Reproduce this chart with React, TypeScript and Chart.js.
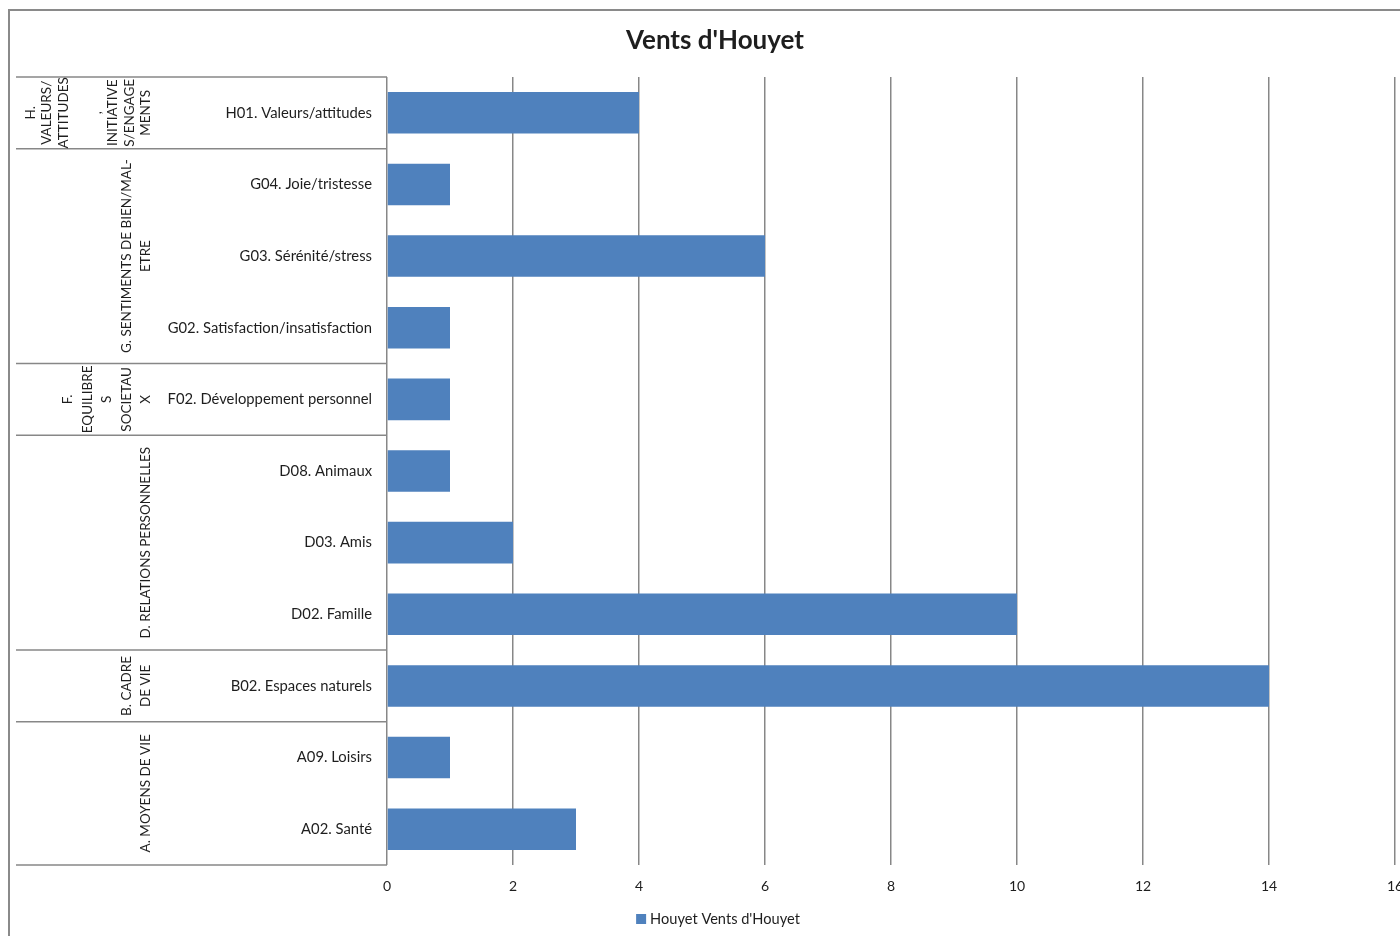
import React, { useEffect, useRef } from "react";
import { Chart, registerables } from "chart.js";

Chart.register(...registerables);

const chartTitle = "Vents d'Houyet";
const seriesName = "Houyet Vents d'Houyet";

const categories = [
  "H01. Valeurs/attitudes",
  "G04. Joie/tristesse",
  "G03. Sérénité/stress",
  "G02. Satisfaction/insatisfaction",
  "F02. Développement personnel",
  "D08. Animaux",
  "D03. Amis",
  "D02. Famille",
  "B02. Espaces naturels",
  "A09. Loisirs",
  "A02. Santé",
];

const values = [4, 1, 6, 1, 1, 1, 2, 10, 14, 1, 3];

const groupLabels = [
  ["H.", "VALEURS/", "ATTITUDES", "", ",", "INITIATIVE", "S/ENGAGE", "MENTS"],
  ["G. SENTIMENTS DE BIEN/MAL-", "ETRE"],
  ["F.", "EQUILIBRE", "S", "SOCIETAU", "X"],
  ["D. RELATIONS PERSONNELLES"],
  ["B. CADRE", "DE VIE"],
  ["A. MOYENS DE VIE"],
];
const groupSizes = [1, 3, 1, 3, 1, 2];

const xMin = 0;
const xMax = 16;
const xStep = 2;

const FONT = "Lato, 'Open Sans', sans-serif";
const GRID = "#878787";
const TEXT = "#1e1e1e";
const BAR = "#4F81BD";

const decorPlugin = {
  id: "decor",
  afterDraw(chart: any) {
    const ctx = chart.ctx;
    const area = chart.chartArea;
    const y = chart.scales.y;
    ctx.save();

    // outer frame
    ctx.strokeStyle = "#8a8a8a";
    ctx.lineWidth = 2;
    ctx.strokeRect(9, 10, 1500, 1000);

    // title
    ctx.fillStyle = TEXT;
    ctx.font = `bold 26px ${FONT}`;
    ctx.textAlign = "center";
    ctx.textBaseline = "middle";
    ctx.fillText(chartTitle, 715, 41);

    // group table lines
    const boundaries: number[] = [area.top];
    let idx = 0;
    groupSizes.forEach((n, gi) => {
      idx += n;
      if (gi < groupSizes.length - 1) {
        boundaries.push((y.getPixelForValue(idx - 1) + y.getPixelForValue(idx)) / 2);
      } else {
        boundaries.push(area.bottom);
      }
    });
    ctx.strokeStyle = GRID;
    ctx.lineWidth = 1.5;
    boundaries.forEach((b) => {
      ctx.beginPath();
      ctx.moveTo(16, b);
      ctx.lineTo(area.left, b);
      ctx.stroke();
    });

    // group labels (rotated)
    ctx.font = `13.5px ${FONT}`;
    ctx.fillStyle = TEXT;
    ctx.textAlign = "center";
    ctx.textBaseline = "middle";
    const lastX = area.left - 241;
    groupLabels.forEach((lines, gi) => {
      const cy = (boundaries[gi] + boundaries[gi + 1]) / 2;
      const spacing = lines.length > 5 ? 16.5 : 19.5;
      lines.forEach((line, li) => {
        const x = lastX - (lines.length - 1 - li) * spacing;
        ctx.save();
        ctx.translate(x, cy);
        ctx.rotate(-Math.PI / 2);
        ctx.fillText(line, 0, 0);
        ctx.restore();
      });
    });

    // legend
    ctx.font = `14.6px ${FONT}`;
    const tw = ctx.measureText(seriesName).width;
    const total = 10 + 4 + tw;
    const lx = 718 - total / 2;
    const ly = 919;
    ctx.fillStyle = BAR;
    ctx.fillRect(lx, ly - 5, 10, 10);
    ctx.fillStyle = TEXT;
    ctx.textAlign = "left";
    ctx.fillText(seriesName, lx + 14, ly);

    ctx.restore();
  },
};

export default function App() {
  const ref = useRef<HTMLCanvasElement>(null);

  useEffect(() => {
    if (!ref.current) return;
    const chart = new Chart(ref.current, {
      type: "bar",
      data: {
        labels: categories,
        datasets: [
          {
            label: seriesName,
            data: values,
            backgroundColor: BAR,
            borderWidth: 0,
            barPercentage: 0.58,
            categoryPercentage: 1,
          },
        ],
      },
      options: {
        indexAxis: "y",
        animation: false,
        responsive: false,
        devicePixelRatio: 1,
        layout: { padding: { top: 77, left: 0, right: 5, bottom: 0 } },
        plugins: {
          legend: { display: false },
          title: { display: false },
          tooltip: { enabled: false },
        },
        scales: {
          x: {
            min: xMin,
            max: xMax,
            ticks: {
              stepSize: xStep,
              color: TEXT,
              font: { family: FONT, size: 14 },
              padding: 13,
              maxRotation: 0,
            },
            grid: {
              color: GRID,
              lineWidth: 1.5,
              drawTicks: false,
            },
            border: { display: false },
            afterFit(scale: any) {
              scale.height = 936 - 865;
              scale.paddingLeft = 0;
              scale.paddingRight = 0;
            },
          },
          y: {
            ticks: {
              color: TEXT,
              font: { family: FONT, size: 14.8 },
              padding: 15,
              autoSkip: false,
            },
            grid: { display: false, drawTicks: false },
            border: { display: false },
            afterFit(scale: any) {
              scale.width = 387;
              scale.paddingTop = 0;
              scale.paddingBottom = 0;
            },
          },
        },
      },
      plugins: [decorPlugin],
    });
    return () => chart.destroy();
  }, []);

  return (
    <div style={{ position: "absolute", left: 0, top: 0, width: 1400, height: 936, background: "#fff" }}>
      <canvas ref={ref} width={1400} height={936} style={{ display: "block" }} />
    </div>
  );
}
